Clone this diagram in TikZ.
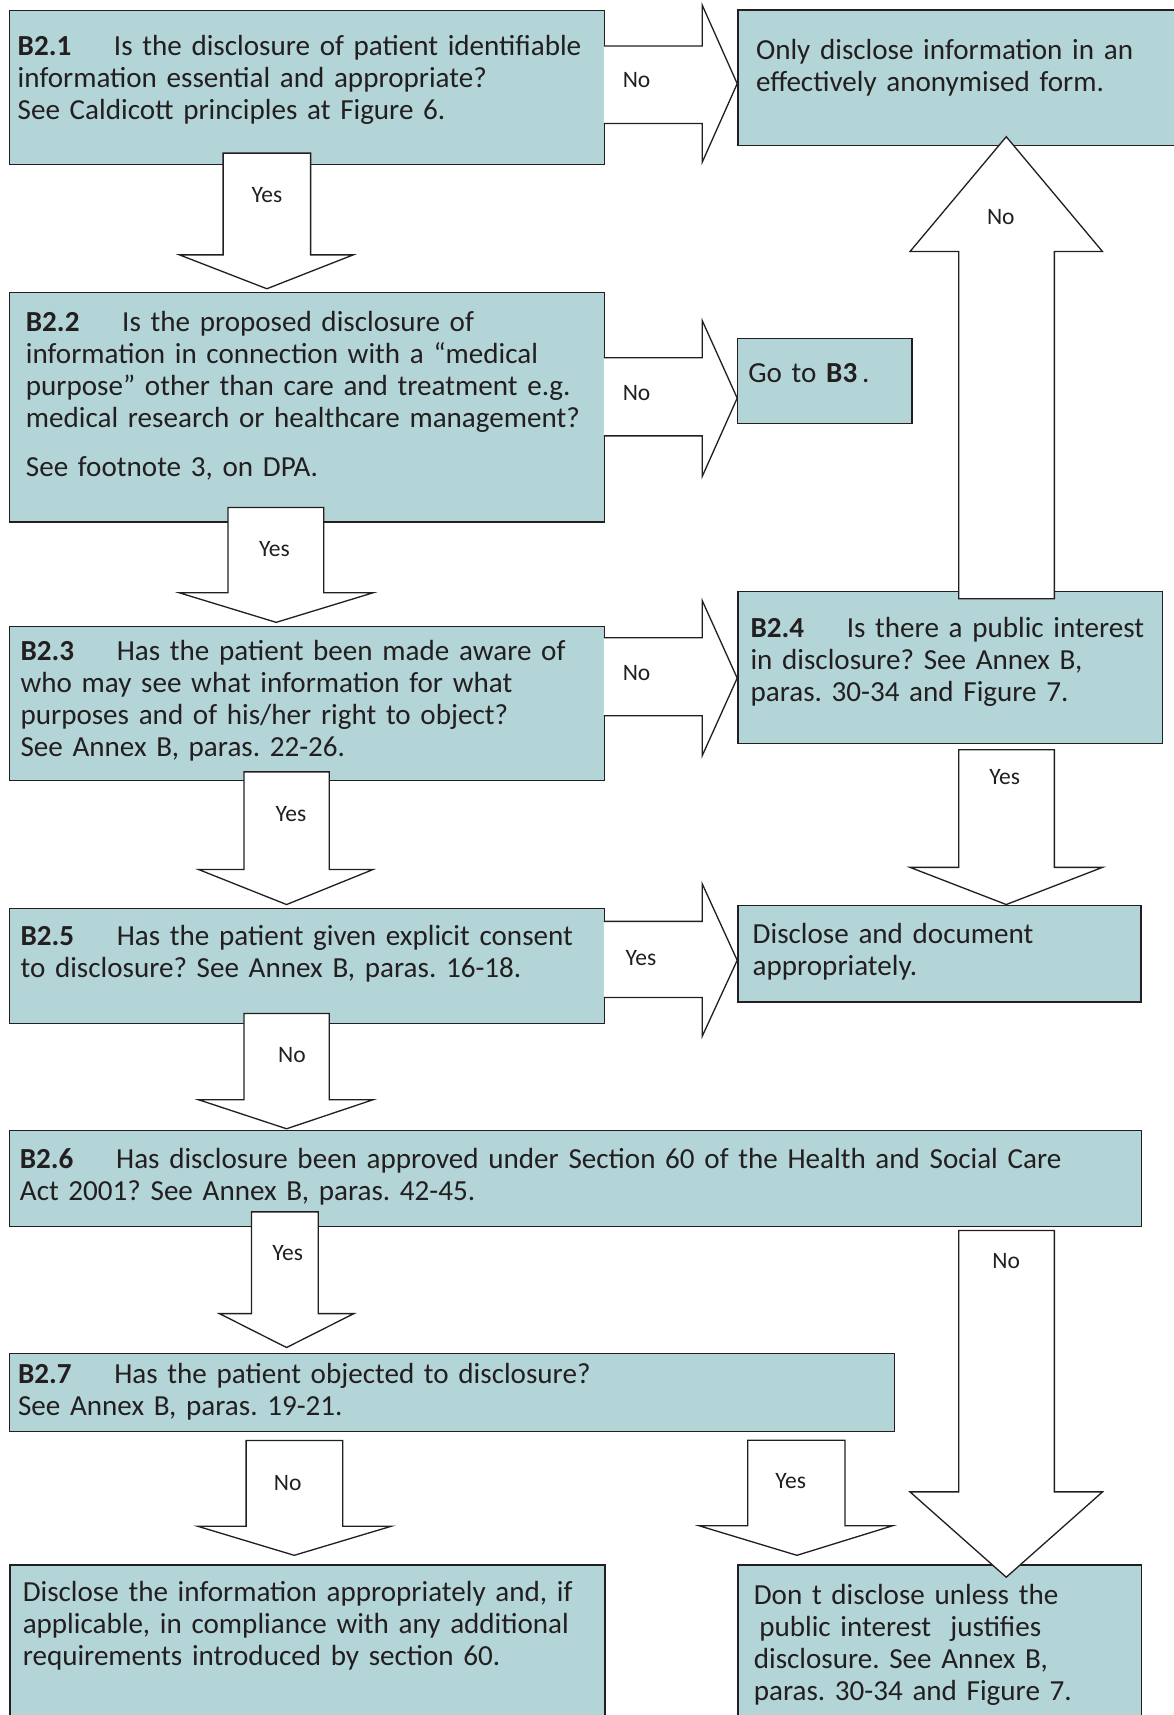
\documentclass[tikz,border=0pt]{standalone}
\usepackage{fontspec}
\setmainfont{Carlito}
\frenchspacing
\definecolor{boxteal}{RGB}{179,213,215}
\definecolor{linegray}{RGB}{35,31,32}
\newcommand{\qno}[1]{\makebox[88pt][l]{\textbf{#1}}}
\tikzset{
  box/.style={draw=linegray, fill=boxteal, line width=1.3pt, inner sep=0pt, anchor=north west},
  boxtext/.style={anchor=base west, inner sep=0pt, align=left, text width=1000pt,
    text=linegray, font=\fontsize{26.6}{29.3}\selectfont},
  answer/.style={inner sep=0pt, text=linegray, font=\fontsize{21.5}{24}\selectfont},
  blockarrow/.style={fill=white, draw=linegray, line width=1.2pt, line join=miter}
}
\begin{document}
\begin{tikzpicture}[x=1pt, y=-1pt]
  \useasboundingbox (0, 0) rectangle (1073, 1568);
  % Draw the question and outcome boxes
  \node[box, minimum width=544pt, minimum height=141pt] (b21) at (8, 9) {};
  \node[box, minimum width=406pt, minimum height=124pt] (anon) at (674, 8.5) {};
  \node[box, minimum width=544pt, minimum height=209.5pt] (b22) at (8, 267) {};
  \node[box, minimum width=159.4pt, minimum height=78pt] (gob3) at (673.6, 308.6) {};
  \node[box, minimum width=544pt, minimum height=141pt] (b23) at (8, 572) {};
  \node[box, minimum width=388pt, minimum height=139pt] (b24) at (674, 540) {};
  \node[box, minimum width=544pt, minimum height=105pt] (b25) at (8, 830) {};
  \node[box, minimum width=368.5pt, minimum height=88.5pt] (document) at (674, 827) {};
  \node[box, minimum width=1035pt, minimum height=87.5pt] (b26) at (8, 1033) {};
  \node[box, minimum width=809pt, minimum height=71pt] (b27) at (8, 1237) {};
  \node[box, minimum width=544pt, minimum height=150pt] (disclose) at (8.3, 1430) {};
  \node[box, minimum width=369pt, minimum height=150pt] (dont) at (674, 1430) {};
  % Draw the block arrows, over the box edges
  \begin{scope}[blockarrow]
    % Arrows pointing down
    \filldraw (204, 140) -- (284, 140) -- (284, 233) -- (323, 233) -- (244, 264) -- (164, 233) -- (204, 233) -- cycle;
    \filldraw (208.5, 464) -- (296, 464) -- (296, 542) -- (341, 542) -- (252.5, 569) -- (164, 542) -- (208.5, 542) -- cycle;
    \filldraw (223, 705.7) -- (301, 705.7) -- (301, 795) -- (341, 795) -- (262, 827) -- (181.6, 795) -- (223, 795) -- cycle;
    \filldraw (223, 926.7) -- (301, 926.7) -- (301, 1005.5) -- (341, 1005.5) -- (262, 1032) -- (181.6, 1005.5) -- (223, 1005.5) -- cycle;
    \filldraw (230, 1108) -- (291, 1108) -- (291, 1201) -- (323.5, 1201) -- (262, 1232) -- (200.6, 1201) -- (230, 1201) -- cycle;
    \filldraw (225, 1317) -- (313.4, 1317) -- (313.4, 1395.4) -- (357.8, 1395.4) -- (269, 1422) -- (180.7, 1395.4) -- (225, 1395.4) -- cycle;
    \filldraw (683.7, 1316.7) -- (772.5, 1316.7) -- (772.5, 1395) -- (816, 1395) -- (728.6, 1422) -- (639.3, 1395) -- (683.7, 1395) -- cycle;
    \filldraw (876.5, 685.5) -- (964, 685.5) -- (964, 793) -- (1008, 793) -- (920, 827) -- (832, 793) -- (876.5, 793) -- cycle;
    \filldraw (876.5, 1125) -- (964, 1125) -- (964, 1364) -- (1008, 1364) -- (920, 1442) -- (832, 1364) -- (876.5, 1364) -- cycle;
    % Arrow pointing up
    \filldraw (876.5, 547.5) -- (964, 547.5) -- (964, 230) -- (1008, 230) -- (920, 125) -- (832, 230) -- (876.5, 230) -- cycle;
    % Arrows pointing right
    \filldraw (552, 42) -- (642, 42) -- (642, 4.6) -- (674, 76.5) -- (642, 148.4) -- (642, 113) -- (552, 113);
    \filldraw (552, 327) -- (642, 327) -- (642, 293) -- (674, 364) -- (642, 435.7) -- (642, 398.5) -- (552, 398.5);
    \filldraw (552, 583) -- (642, 583) -- (642, 549) -- (674, 620) -- (642, 691) -- (642, 654.4) -- (552, 654.4);
    \filldraw (552, 842.4) -- (642, 842.4) -- (642, 808) -- (674, 878) -- (642, 947.5) -- (642, 912) -- (552, 912);
  \end{scope}
  % Answers on the arrows
  \node[answer] (yes21) at (244, 178) {Yes};
  \node[answer] (no21) at (582, 73) {No};
  \node[answer] (yes22) at (251, 502) {Yes};
  \node[answer] (no22) at (582, 359) {No};
  \node[answer] (yes23) at (266, 744) {Yes};
  \node[answer] (no23) at (582, 615) {No};
  \node[answer] (no24) at (915, 198) {No};
  \node[answer] (yes24) at (918.5, 710) {Yes};
  \node[answer] (yes25) at (586, 876) {Yes};
  \node[answer] (no25) at (267, 965) {No};
  \node[answer] (yes26) at (263, 1146) {Yes};
  \node[answer] (no26) at (920, 1153) {No};
  \node[answer] (no27) at (263, 1356) {No};
  \node[answer] (yes27) at (723, 1354) {Yes};
  % Box texts
  \node[boxtext] (t21) at (16, 50.5) {\qno{B2.1}Is the disclosure of patient identifiable\\
    information essential and appropriate?\\
    See Caldicott principles at Figure 6.};
  \node[boxtext] (tanon) at (691, 54) {Only disclose information in an\\
    effectively anonymised form.};
  \node[boxtext] (t22) at (23.5, 303) {\qno{B2.2}Is the proposed disclosure of\\
    information in connection with a “medical\\
    purpose” other than care and treatment e.g.\\
    medical research or healthcare management?\\[15.5pt]
    See footnote 3, on DPA.};
  \node[boxtext] (tgob3) at (684, 350) {Go to \textbf{B3}\,.};
  \node[boxtext] (t23) at (18.6, 603.5) {\qno{B2.3}Has the patient been made aware of\\
    who may see what information for what\\
    purposes and of his/her right to object?\\
    See Annex B, paras. 22-26.};
  \node[boxtext] (t24) at (686, 582.5) {\qno{B2.4}Is there a public interest\\
    in disclosure? See Annex B,\\
    paras. 30-34 and Figure 7.};
  \node[boxtext] (t25) at (18.6, 864) {\qno{B2.5}Has the patient given explicit consent\\
    to disclosure? See Annex B, paras. 16-18.};
  \node[boxtext] (tdocument) at (688, 862.5) {Disclose and document\\
    appropriately.};
  \node[boxtext] (t26) at (18, 1068) {\qno{B2.6}Has disclosure been approved under Section 60 of the Health and Social Care\\
    Act 2001? See Annex B, paras. 42-45.};
  \node[boxtext] (t27) at (16.3, 1265) {\qno{B2.7}Has the patient objected to disclosure?\\
    See Annex B, paras. 19-21.};
  \node[boxtext] (tdisclose) at (20.6, 1464.5) {Disclose the information appropriately and, if\\
    applicable, in compliance with any additional\\
    requirements introduced by section 60.};
  \node[boxtext] (tdont) at (689, 1467) {Don t disclose unless the\\
    \hspace*{5pt}public interest\ \ justifies\\
    disclosure. See Annex B,\\
    paras. 30-34 and Figure 7.};
\end{tikzpicture}
\end{document}
